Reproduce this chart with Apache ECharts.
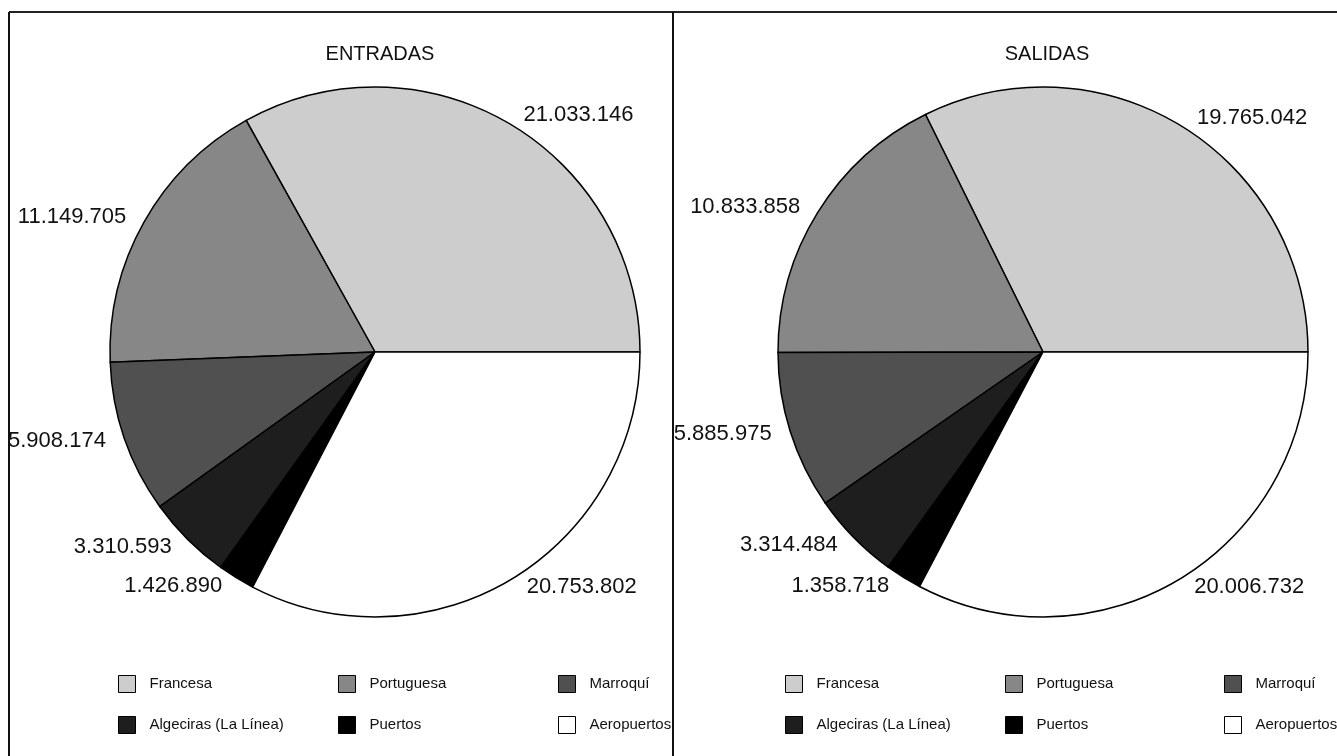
<!DOCTYPE html>
<html>
<head>
<meta charset="utf-8">
<style>
  html, body { margin: 0; padding: 0; background: #fff; }
  #chart { width: 1337px; height: 756px; }
</style>
<script src="https://cdn.jsdelivr.net/npm/echarts@6/dist/echarts.min.js"></script>
</head>
<body>
<div id="chart"></div>
<script>
  // categorias y valores (personas)
  const categorias = ['Francesa', 'Portuguesa', 'Marroquí', 'Algeciras (La Línea)', 'Puertos', 'Aeropuertos']
  const entradas = [21033146, 11149705, 5908174, 3310593, 1426890, 20753802]
  const salidas = [19765042, 10833858, 5885975, 3314484, 1358718, 20006732]
  const titulos = ['ENTRADAS', 'SALIDAS']

  const grises = ['#cdcdcd', '#878787', '#505050', '#1e1e1e', '#000000', '#ffffff']
  const fuente = 'Liberation Sans'

  // 1.234.567
  const fmt = v => String(v).replace(/\B(?=(\d{3})+(?!\d))/g, '.')

  function serie(valores, cx) {
    return {
      type: 'pie',
      center: [cx, 352],
      radius: 265,
      startAngle: 0,
      clockwise: false,
      animation: false,
      silent: true,
      itemStyle: { borderColor: '#000', borderWidth: 1.5 },
      label: {
        show: true,
        position: 'outside',
        overflow: 'none',
        edgeDistance: 0,
        formatter: p => fmt(p.value),
        color: '#111',
        fontFamily: fuente,
        fontSize: 22
      },
      labelLine: { show: false, length: 10, length2: 4 },
      emphasis: { disabled: true },
      data: categorias.map((c, i) => ({ name: c, value: valores[i] }))
    }
  }

  // tres columnas de leyenda en cada panel
  const colsIzq = [118, 338, 558]
  const colsDer = [785, 1005, 1224]
  const leyendas = []
  ;[colsIzq, colsDer].forEach(cols => {
    cols.forEach((x, k) => {
      leyendas.push({
        orient: 'vertical',
        left: x,
        top: 675,
        padding: 0,
        itemWidth: 17,
        itemHeight: 17,
        itemGap: 23,
        icon: 'rect',
        selectedMode: false,
        itemStyle: { borderColor: '#000', borderWidth: 1 },
        textStyle: { fontFamily: fuente, fontSize: 15, color: '#111', padding: [0, 0, 0, 9] },
        data: [categorias[k], categorias[k + 3]]
      })
    })
  })

  const chart = echarts.init(document.getElementById('chart'))
  chart.setOption({
    color: grises,
    title: [
      { text: titulos[0], left: 375, top: 39, textAlign: 'center',
        textStyle: { fontFamily: fuente, fontSize: 20, fontWeight: 'normal', color: '#111' } },
      { text: titulos[1], left: 1042, top: 39, textAlign: 'center',
        textStyle: { fontFamily: fuente, fontSize: 20, fontWeight: 'normal', color: '#111' } }
    ],
    legend: leyendas,
    graphic: [
      { type: 'line', shape: { x1: 9, y1: 12, x2: 1337, y2: 12 }, style: { stroke: '#222', lineWidth: 2 } },
      { type: 'line', shape: { x1: 9, y1: 12, x2: 9, y2: 756 }, style: { stroke: '#111', lineWidth: 2 } },
      { type: 'line', shape: { x1: 673, y1: 12, x2: 673, y2: 756 }, style: { stroke: '#111', lineWidth: 2 } }
    ],
    series: [serie(entradas, 375), serie(salidas, 1043)]
  })
</script>
</body>
</html>
